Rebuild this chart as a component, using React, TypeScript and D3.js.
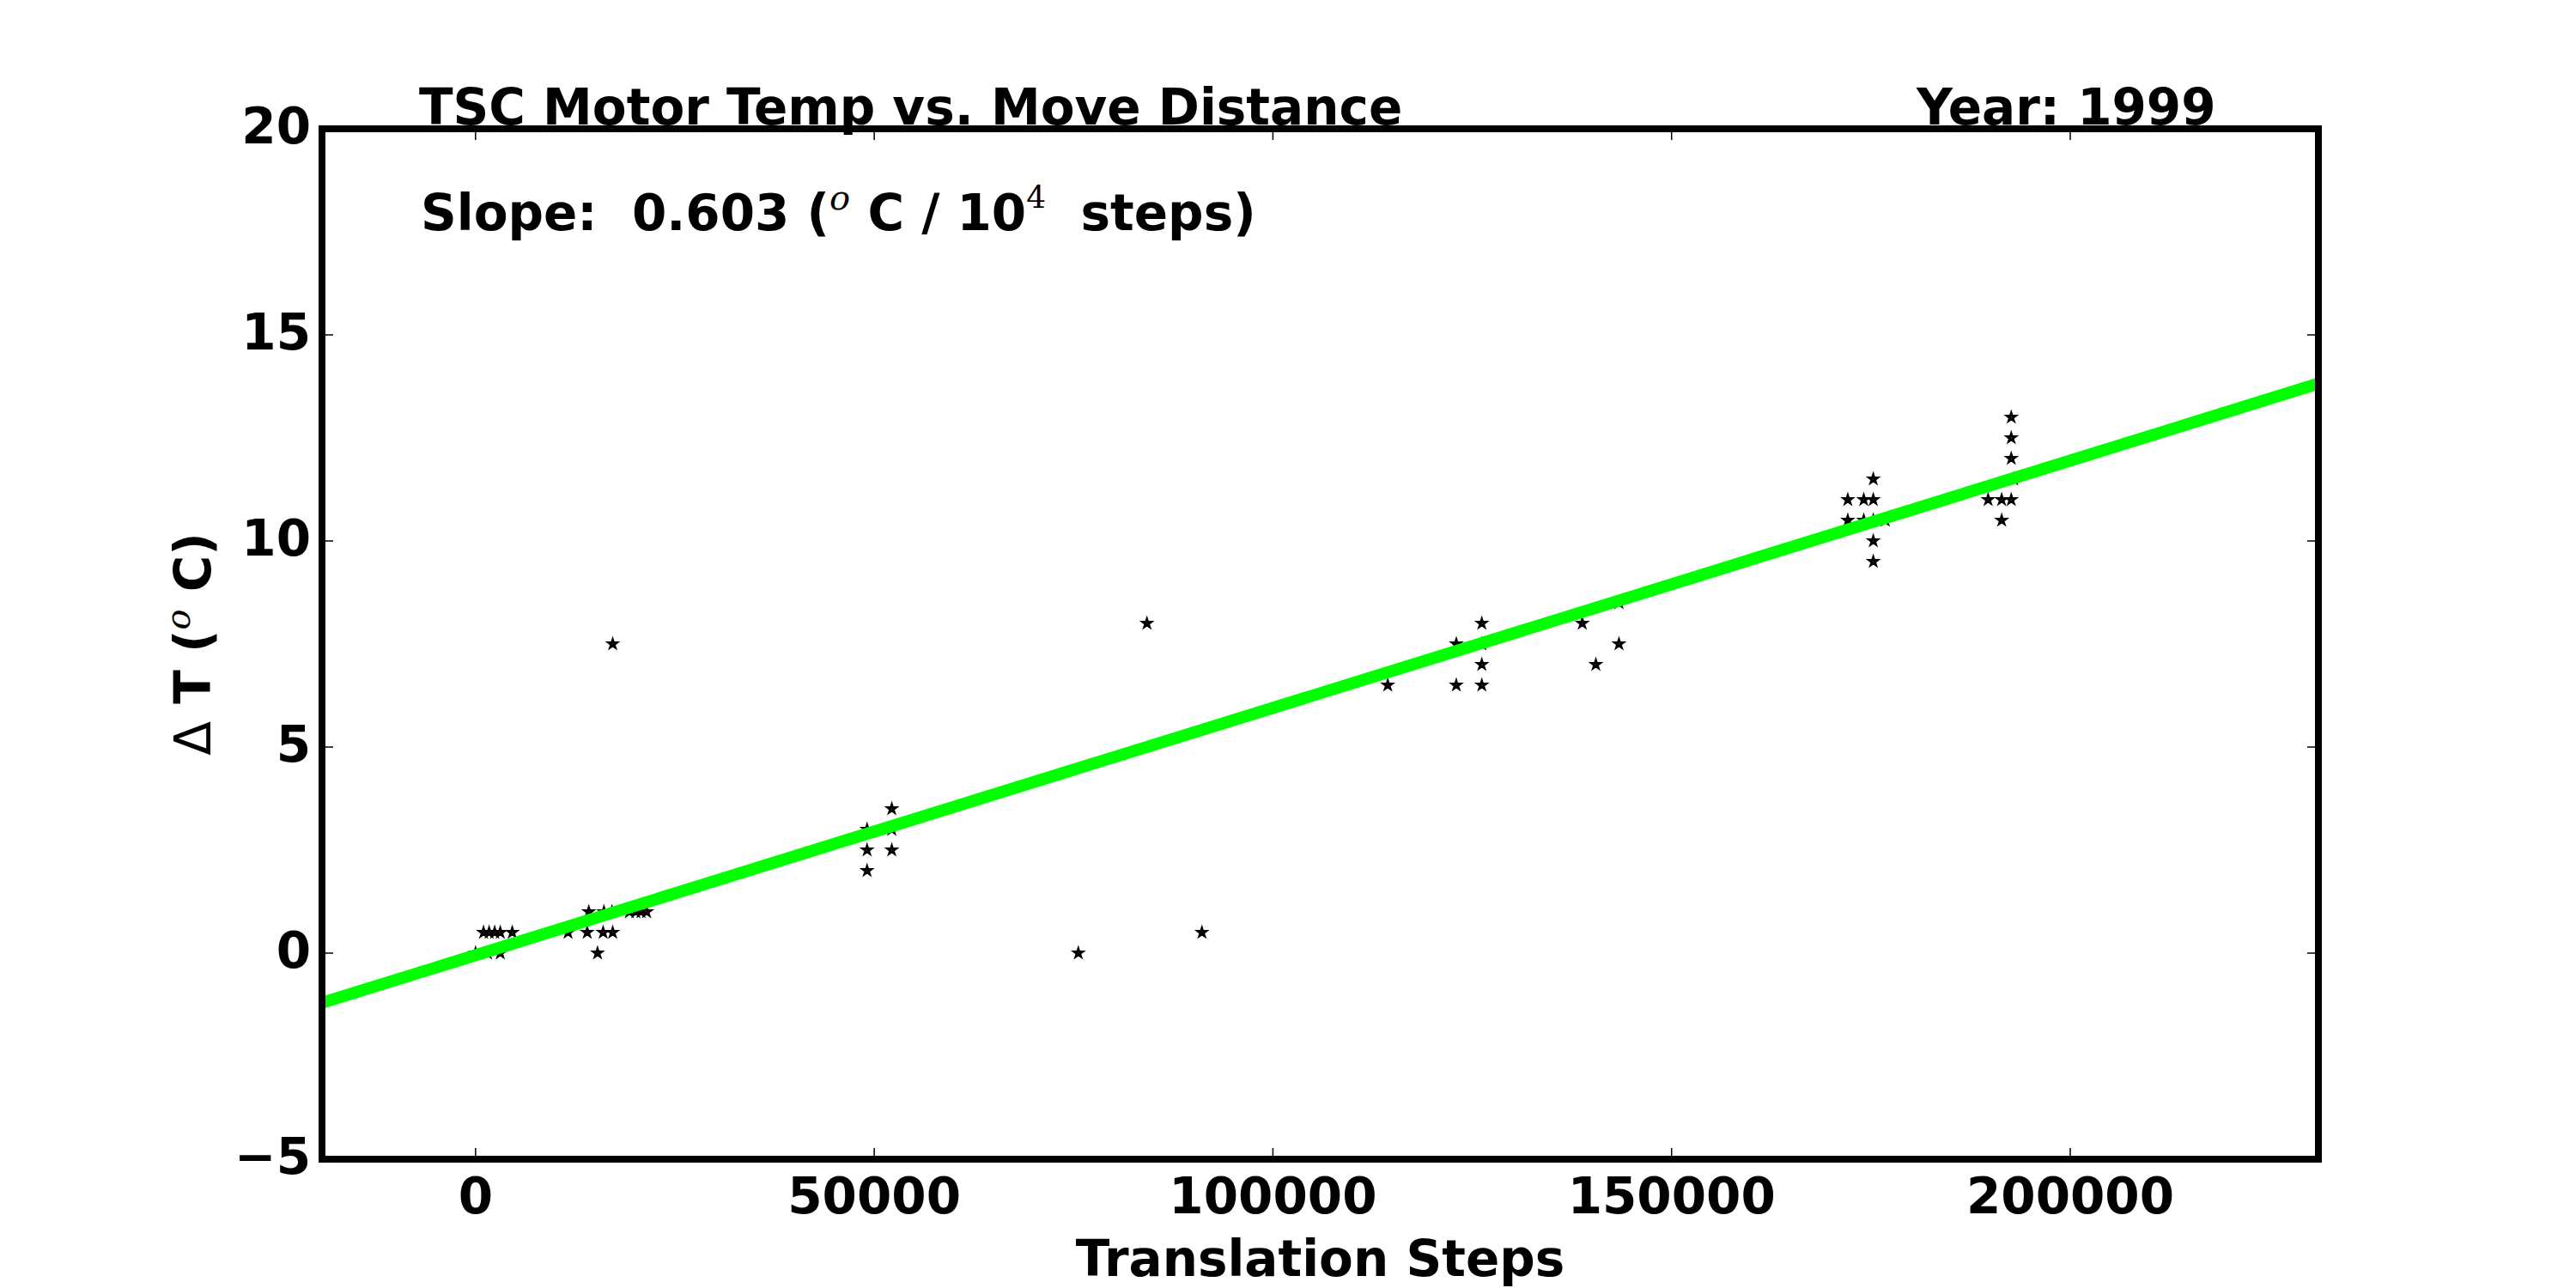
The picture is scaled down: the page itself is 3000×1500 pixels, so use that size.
import React from "react";
import * as d3 from "d3";

// ---- data ----
const STEPS: number[] = [
  0, 1000, 1700, 2400, 3100, 4600, 1500, 3100,
  11600, 14000, 14200, 15300, 16000, 16100, 17200, 17100, 17200,
  19300, 20100, 20750, 21450,
  49100, 49100, 49100, 52200, 52200, 52200,
  75600, 84200, 91100,
  114400, 123000, 123000, 126200, 126200, 126200, 126200,
  138800, 140500, 143400, 143400,
  172100, 172100, 174100, 174100,
  175300, 175300, 175300, 175300, 175300, 176800,
  189700, 191400, 191400, 192600, 192600, 192600, 192900, 192600,
];
const DELTA_T: number[] = [
  0, 0.5, 0.5, 0.5, 0.5, 0.5, 0, 0,
  0.5, 0.5, 1.0, 0, 0.5, 1.0, 0.5, 1.0, 7.5,
  1.0, 1.0, 1.0, 1.0,
  3.0, 2.5, 2.0, 3.5, 3.0, 2.5,
  0, 8.0, 0.5,
  6.5, 7.5, 6.5, 8.0, 7.5, 7.0, 6.5,
  8.0, 7.0, 7.5, 8.5,
  11.0, 10.5, 11.0, 10.5,
  11.5, 11.0, 10.5, 10.0, 9.5, 10.5,
  11.0, 11.0, 10.5, 13.0, 12.5, 12.0, 11.5, 11.0,
];
const X_TICKS: number[] = [0, 50000, 100000, 150000, 200000];
const Y_TICKS: number[] = [-5, 0, 5, 10, 15, 20];
const X_DOMAIN: [number, number] = [-19260, 231120];
const Y_DOMAIN: [number, number] = [-5, 20];
const FIT_INTERCEPT = -0.05;
const FIT_SLOPE = 0.00006;
const SLOPE_LABEL = "0.603";
const TITLE = "TSC Motor Temp vs. Move Distance";
const YEAR_LABEL = "Year: 1999";
const X_LABEL = "Translation Steps";

const W = 3000;
const H = 1500;
const L = 375, R = 2700, T = 150, B = 1350;
const FONT = "'DejaVu Sans', sans-serif";
const FS = 58;

export default function App() {
  const x = d3.scaleLinear().domain(X_DOMAIN).range([L, R]);
  const y = d3.scaleLinear().domain(Y_DOMAIN).range([B, T]);
  const star = d3.symbol().type(d3.symbolStar).size(30)() as string;
  const fitLine = d3
    .line<number>()
    .x((d) => x(d))
    .y((d) => y(FIT_INTERCEPT + FIT_SLOPE * d))(X_DOMAIN) as string;
  const fmtY = (v: number) => (v < 0 ? "\u2212" + Math.abs(v) : String(v));
  const tickLen = 13;

  return (
    <svg
      width={W}
      height={H}
      style={{ position: "absolute", left: 0, top: 0, background: "#fff" }}
      fontFamily={FONT}
    >
      <rect x={0} y={0} width={W} height={H} fill="#fff" />
      <defs>
        <clipPath id="plotclip">
          <rect x={L} y={T} width={R - L} height={B - T} />
        </clipPath>
      </defs>

      <g clipPath="url(#plotclip)">
        {STEPS.map((s, i) => (
          <path
            key={i}
            d={star}
            transform={`translate(${x(s)},${y(DELTA_T[i])})`}
            fill="#ff00ff"
            stroke="#000"
            strokeWidth={2.6}
            strokeLinejoin="miter"
          />
        ))}
        <path d={fitLine} stroke="#00ff00" strokeWidth={14} fill="none" />
      </g>

      {/* ticks */}
      {X_TICKS.map((t) => (
        <g key={"xt" + t}>
          <line x1={x(t)} x2={x(t)} y1={B} y2={B - tickLen} stroke="#000" strokeWidth={1.5} />
          <line x1={x(t)} x2={x(t)} y1={T} y2={T + tickLen} stroke="#000" strokeWidth={1.5} />
          <text x={x(t)} y={B + 63} textAnchor="middle" fontSize={FS} fontWeight="bold">
            {t}
          </text>
        </g>
      ))}
      {Y_TICKS.map((t) => (
        <g key={"yt" + t}>
          <line x1={L} x2={L + tickLen} y1={y(t)} y2={y(t)} stroke="#000" strokeWidth={1.5} />
          <line x1={R} x2={R - tickLen} y1={y(t)} y2={y(t)} stroke="#000" strokeWidth={1.5} />
          <text x={362} y={y(t) + 17} textAnchor="end" fontSize={FS} fontWeight="bold">
            {fmtY(t)}
          </text>
        </g>
      ))}

      {/* frame */}
      <rect x={L} y={T} width={R - L} height={B - T} fill="none" stroke="#000" strokeWidth={8} />

      {/* texts */}
      <text x={488} y={145} fontSize={FS} fontWeight="bold">
        {TITLE}
      </text>
      <text x={2232} y={145} fontSize={FS} fontWeight="bold">
        {YEAR_LABEL}
      </text>
      <text x={490} y={268} fontSize={FS} fontWeight="bold" style={{ whiteSpace: "pre" }}>
        <tspan>{"Slope:  " + SLOPE_LABEL + " ("}</tspan>
        <tspan
          fontFamily="'DejaVu Serif', serif"
          fontStyle="italic"
          fontWeight="normal"
          fontSize={40}
          dy={-24}
        >
          o
        </tspan>
        <tspan dy={24}>{" C / 10"}</tspan>
        <tspan fontFamily="'DejaVu Serif', serif" fontWeight="normal" fontSize={36} dy={-26}>
          4
        </tspan>
        <tspan dy={26}>{"  steps)"}</tspan>
      </text>

      <text x={(L + R) / 2} y={1486} textAnchor="middle" fontSize={FS} fontWeight="bold">
        {X_LABEL}
      </text>

      <text
        transform={`translate(245,${(T + B) / 2}) rotate(-90)`}
        textAnchor="middle"
        fontSize={FS}
        fontWeight="bold"
        style={{ whiteSpace: "pre" }}
      >
        <tspan fontWeight="normal">{"\u0394"}</tspan>
        <tspan>{" T ("}</tspan>
        <tspan
          fontFamily="'DejaVu Serif', serif"
          fontStyle="italic"
          fontWeight="normal"
          fontSize={40}
          dy={-24}
        >
          o
        </tspan>
        <tspan dy={24}>{" C)"}</tspan>
      </text>
    </svg>
  );
}
